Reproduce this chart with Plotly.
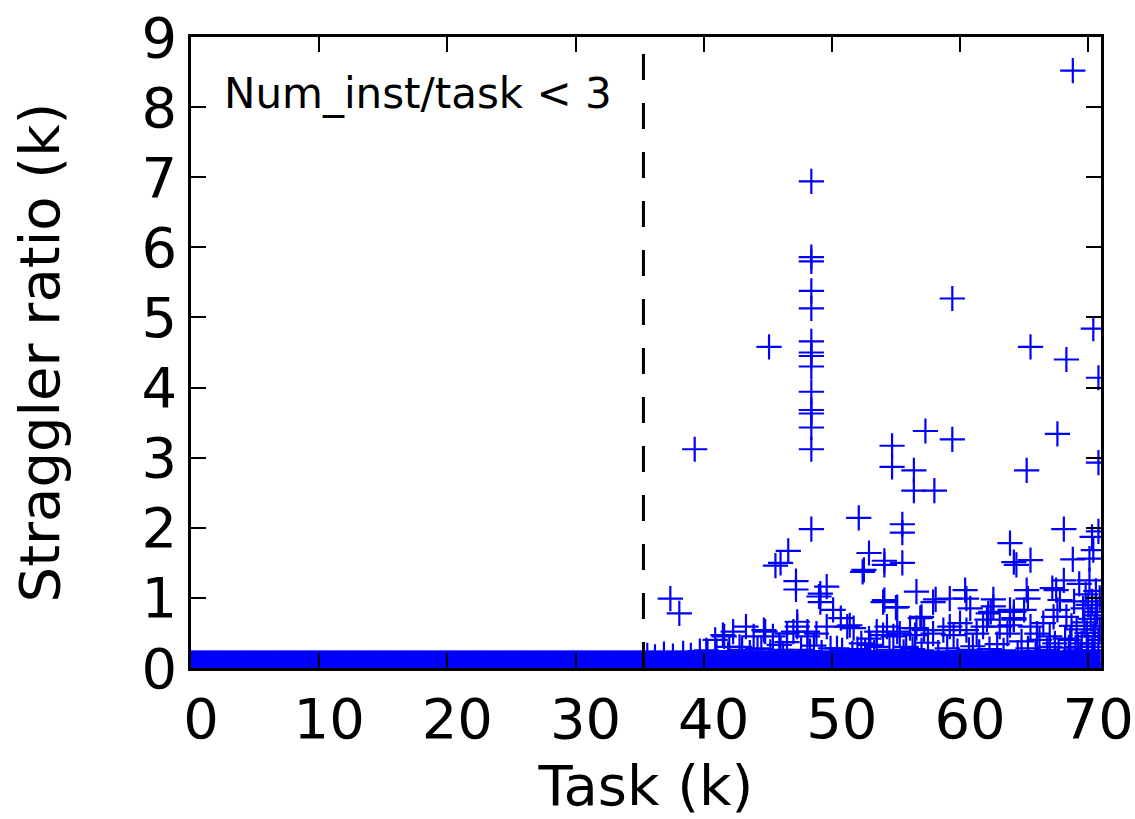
import numpy as np
import plotly.graph_objects as go

# Tasks (in thousands) are indexed sequentially; every task with fewer than
# three instances sits at a near-zero straggler ratio.
baseline_task_k = np.arange(0.0, 71.0, 0.1)
baseline_ratio_k = [0.07] * len(baseline_task_k)

# Tasks with a noticeable straggler ratio (task id in k, ratio in k)
outlier_task_k = [
    68.8, 48.4, 48.4, 48.4, 48.4, 48.4, 48.4, 48.4, 48.4, 48.4, 48.4, 48.4,
    48.4, 48.4, 48.4, 59.4, 45.1, 65.5, 68.3, 70.4, 70.8, 39.3, 54.7, 54.7,
    56.4, 56.4, 58.0, 57.3, 59.4, 67.6, 65.2, 70.8, 52.1, 48.4, 55.5, 55.5,
    46.6, 45.6, 46.0, 47.2, 47.2, 49.6, 49.1, 49.1, 49.0, 52.9, 52.5, 54.1,
    54.1, 55.5, 52.4, 54.1, 55.0, 56.6, 57.0, 58.1, 59.2, 60.4, 60.5, 60.8,
    62.6, 62.2, 63.9, 64.2, 65.5, 64.4, 65.2, 65.3, 64.2, 63.9, 68.1, 67.5,
    37.4, 38.1, 70.3, 70.4, 68.8, 70.1, 70.8, 67.2, 68.1, 67.3,
]
outlier_ratio_k = [
    8.52, 6.94, 5.86, 5.80, 5.38, 5.13, 4.66, 4.50, 4.45, 4.30, 3.94, 3.68,
    3.63, 3.43, 3.12, 5.27, 4.58, 4.58, 4.40, 4.84, 4.14, 3.12, 3.17, 2.87,
    2.82, 2.53, 2.53, 3.38, 3.26, 3.34, 2.82, 2.93, 2.14, 1.98, 2.05, 1.93,
    1.67, 1.46, 1.50, 1.24, 1.12, 1.16, 1.06, 0.94, 1.02, 1.64, 1.40, 1.53,
    1.47, 1.50, 1.37, 0.97, 0.86, 1.09, 0.73, 0.98, 0.99, 1.11, 0.99, 0.85,
    0.98, 0.78, 1.78, 1.51, 1.54, 1.47, 1.11, 0.99, 0.80, 0.83, 1.98, 1.11,
    0.99, 0.78, 1.87, 1.68, 1.55, 1.56, 1.95, 1.14, 1.25, 0.73,
]

# Tasks with a small but visible straggler ratio
low_task_k = [
    35.6, 36.2, 36.9, 37.6, 38.4, 39.0, 39.7, 40.3, 40.9, 41.5, 41.6, 42.3,
    42.8, 43.3, 43.9, 44.7, 44.8, 45.4, 45.9, 46.5, 46.5, 47.0, 47.3, 47.3,
    48.1, 48.1, 48.8, 49.6, 50.1, 50.7, 51.2, 51.4, 51.7, 52.3, 52.9, 53.5,
    53.5, 54.0, 54.0, 54.3, 54.8, 55.1, 55.1, 55.3, 56.1, 56.5, 56.6, 56.9,
    57.2, 57.9, 57.9, 58.7, 59.2, 59.5, 60.0, 60.5, 61.3, 61.8, 62.1, 62.4,
    62.6, 63.1, 63.7, 63.9, 64.2, 64.2, 65.0, 65.5, 66.0, 66.5, 67.0, 67.0,
    67.6, 67.8, 68.3, 68.6, 68.9, 69.1, 69.3, 69.5, 69.6, 69.8, 69.9, 70.0,
    70.1, 70.2, 70.3, 70.4, 70.5, 70.6, 70.7, 70.8, 70.9, 69.4, 69.7, 70.0,
    70.3, 70.6, 68.7, 69.2, 69.9, 70.5, 70.9, 40.2, 42.0, 44.2, 46.0, 48.6,
    50.4, 52.0, 53.0, 55.8, 57.5, 59.0, 61.0, 62.9, 64.8, 66.2, 67.4, 68.2,
    41.0, 41.9, 43.0, 43.6, 44.5, 45.2, 46.2, 47.6, 48.3, 49.2, 49.9, 50.8,
    51.6, 52.6, 53.3, 54.5, 55.6, 56.3, 57.0, 58.3, 59.8, 60.7, 61.5, 62.3,
    63.4, 64.5, 65.3, 65.9, 66.8, 67.7, 68.5, 69.0,
]
low_ratio_k = [
    0.18, 0.16, 0.20, 0.17, 0.21, 0.18, 0.24, 0.22, 0.40, 0.47, 0.45, 0.52,
    0.30, 0.59, 0.45, 0.54, 0.52, 0.45, 0.33, 0.49, 0.37, 0.52, 0.66, 0.59,
    0.52, 0.45, 0.49, 0.59, 0.83, 0.71, 0.59, 0.61, 0.57, 0.35, 0.42, 0.52,
    0.30, 0.94, 0.47, 0.59, 0.45, 0.87, 0.52, 0.49, 0.57, 0.47, 0.57, 0.71,
    0.54, 0.49, 0.94, 0.54, 0.59, 0.47, 0.64, 0.54, 0.49, 0.59, 0.69, 0.80,
    0.88, 0.59, 0.49, 0.61, 0.69, 0.71, 0.83, 0.59, 0.49, 0.64, 0.45, 0.30,
    0.83, 0.97, 0.73, 0.40, 0.95, 0.55, 1.20, 0.35, 0.85, 1.05, 0.50, 0.30,
    1.25, 0.70, 0.95, 0.45, 0.60, 1.10, 0.80, 0.40, 1.00, 0.20, 0.65, 0.90,
    0.25, 0.75, 0.60, 0.30, 0.45, 0.35, 0.55, 0.25, 0.30, 0.28, 0.26, 0.32,
    0.28, 0.27, 0.33, 0.30, 0.36, 0.28, 0.31, 0.34, 0.38, 0.40, 0.35, 0.42,
    0.24, 0.20, 0.26, 0.22, 0.27, 0.23, 0.21, 0.26, 0.24, 0.22, 0.28, 0.25,
    0.21, 0.24, 0.22, 0.26, 0.23, 0.27, 0.25, 0.22, 0.24, 0.26, 0.23, 0.27,
    0.25, 0.22, 0.28, 0.24, 0.26, 0.23, 0.29, 0.25,
]

threshold_task_k = 35.3
note_text = "Num_inst/task < 3"

x_ticks = [0, 10, 20, 30, 40, 50, 60, 70]
y_ticks = [0, 1, 2, 3, 4, 5, 6, 7, 8, 9]

FONT = "DejaVu Sans"
BLUE = "#0000ff"
marker_style = dict(symbol="cross-thin", size=18, color=BLUE,
                    line=dict(color=BLUE, width=2.2))

fig = go.Figure()
for xs, ys in [(baseline_task_k, baseline_ratio_k),
               (low_task_k, low_ratio_k),
               (outlier_task_k, outlier_ratio_k)]:
    fig.add_trace(go.Scatter(x=list(xs), y=ys, mode="markers",
                             marker=marker_style, showlegend=False,
                             hoverinfo="x+y"))

fig.add_shape(type="line", xref="x", yref="paper",
              x0=threshold_task_k, x1=threshold_task_k, y0=0, y1=1,
              line=dict(color="black", width=3, dash="26px,23px"))

fig.add_annotation(x=2.4, y=8.2, xref="x", yref="y", text=note_text,
                   showarrow=False, xanchor="left", yanchor="middle",
                   font=dict(family=FONT, size=42, color="black"))

axis_common = dict(
    showline=True, linecolor="black", linewidth=2.5, mirror="ticks",
    ticks="inside", ticklen=15, tickwidth=2, tickcolor="black",
    showgrid=False, zeroline=False, automargin=False,
    tickfont=dict(family=FONT, size=56, color="black"),
)

fig.update_layout(
    width=1135, height=819,
    margin=dict(l=191, r=34, t=37, b=151),
    paper_bgcolor="white", plot_bgcolor="white",
    xaxis=dict(range=[0, 71], tickvals=x_ticks, ticklabelshift=10,
               title=dict(text="Task (k)", font=dict(family=FONT, size=56, color="black"),
                          standoff=16),
               **axis_common),
    yaxis=dict(range=[0, 9], tickvals=y_ticks,
               title=dict(text="Straggler ratio (k)",
                          font=dict(family=FONT, size=56, color="black"),
                          standoff=64),
               **axis_common),
)

fig.write_html("out.html")
